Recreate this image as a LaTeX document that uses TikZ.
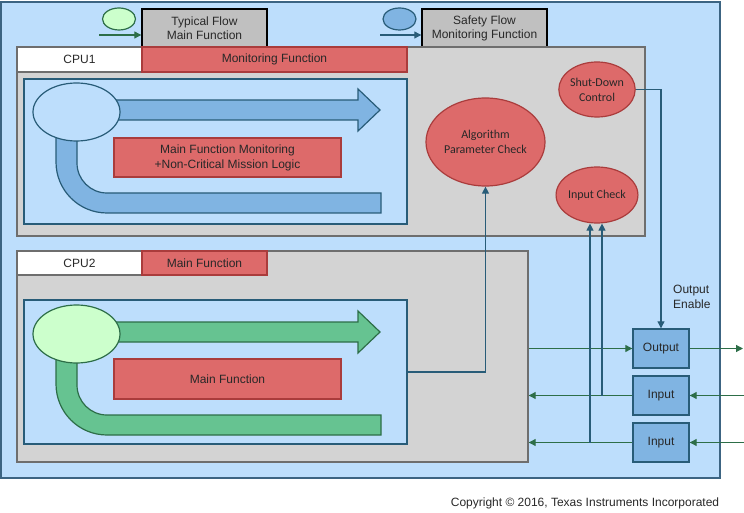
\documentclass[tikz,border=0pt]{standalone}
\usepackage{fontspec}
\setmainfont{Liberation Sans}
\newfontfamily\calfont{Carlito}
\usetikzlibrary{shapes.geometric,arrows.meta,calc}
\definecolor{bgblue}{RGB}{189,222,252}
\definecolor{bgline}{RGB}{60,100,130}
\definecolor{cpugray}{RGB}{211,211,211}
\definecolor{cpuline}{RGB}{110,110,110}
\definecolor{redfill}{RGB}{221,106,106}
\definecolor{redline}{RGB}{170,60,60}
\definecolor{bandblue}{RGB}{128,180,226}
\definecolor{tealline}{RGB}{40,92,120}
\definecolor{bandgreen}{RGB}{102,195,145}
\definecolor{greenline}{RGB}{45,110,72}
\definecolor{lightgreen}{RGB}{204,255,204}
\definecolor{leggray}{RGB}{192,192,192}
\definecolor{txtgray}{RGB}{40,40,40}
\newcommand\flowband[4]{%
  \begin{scope}[shift={(0,#1)}]
    \draw[fill=#2,draw=#3,line width=1.2pt] (100,100) -- (358,100) -- (358,89) -- (380,110) -- (358,131) -- (358,120) -- (100,120) -- cycle;
    \draw[fill=#2,draw=#3,line width=1.2pt] (56,125) -- (56,162) .. controls (56,190.2) and (78.8,213) .. (107,213) -- (381,213) -- (381,193) -- (107,193) .. controls (90.4,193) and (77,179.6) .. (77,163) -- (77,125) -- cycle;
    \node[ellipse, draw=#3, fill=#4, line width=1.2pt, inner sep=0pt, minimum width=87pt, minimum height=58pt] (#1ell) at (76.5,112) {};
  \end{scope}}
\begin{document}
\begin{tikzpicture}[x=1pt,y=-1pt,
  font=\fontsize{12}{14}\selectfont,
  plain/.style={inner sep=0pt, align=center, text=txtgray},
  container/.style={draw, inner sep=0pt, line width=1.4pt},
  legbox/.style={container, draw=black, fill=leggray, minimum width=125pt, minimum height=39pt, align=center, text=txtgray, font=\fontsize{12}{14}\selectfont},
  redbox/.style={draw=redline, fill=redfill, line width=1.2pt, inner sep=0pt, align=center, text=txtgray, font=\fontsize{12}{15}\selectfont},
  redell/.style={ellipse, draw=redline, fill=redfill, line width=1.2pt, inner sep=0pt, align=center, text=txtgray, font=\calfont\fontsize{12}{15}\selectfont},
  iobox/.style={draw=tealline, fill=bandblue, line width=1.4pt, inner sep=0pt, minimum width=56pt, minimum height=39pt, text=txtgray},
  tarr/.style={draw=tealline, line width=1.1pt, -{Triangle[length=7pt,width=7pt]}},
  garr/.style={draw=greenline, line width=1.1pt, -{Triangle[length=7pt,width=7pt]}}
]
\useasboundingbox (0,0) rectangle (744,513);
\node[container, draw=bgline, fill=bgblue, minimum width=719pt, minimum height=476pt] (sys) at (360.5,240) {};
% legend
\node[legbox] (leg1box) at (204.5,28.5) {Typical Flow\\Main Function};
\node[legbox] (leg2box) at (484.5,28.5) {Safety Flow\\Monitoring Function};
\node[ellipse, draw=greenline, fill=lightgreen, line width=1.2pt, inner sep=0pt, minimum width=33pt, minimum height=22pt] (leg1ell) at (119,19) {};
\node[ellipse, draw=tealline, fill=bandblue, line width=1.2pt, inner sep=0pt, minimum width=33pt, minimum height=22pt] (leg2ell) at (399.5,19) {};
\coordinate (leg1s) at (99,35);
\coordinate (leg2s) at (380,35);
\draw[garr] (leg1s) -- (leg1s -| leg1box.west);
\draw[tarr] (leg2s) -- (leg2s -| leg2box.west);
% CPU1
\node[container, draw=cpuline, fill=cpugray, minimum width=628pt, minimum height=189pt] (cpu1) at (331,141.5) {};
\node[container, draw=cpuline, fill=white, minimum width=125pt, minimum height=25pt, text=txtgray] (cpu1lbl) at (79.5,59.5) {CPU1};
\node[redbox, minimum width=265pt, minimum height=25pt] (monbar) at (274.5,59.5) {Monitoring Function};
\node[container, draw=tealline, fill=bgblue, minimum width=383pt, minimum height=145pt] (in1) at (215.5,151.5) {};
\flowband{0}{bandblue}{tealline}{bgblue}
\node[redbox, minimum width=227pt, minimum height=39pt] (red1) at (227.5,157.5) {Main Function Monitoring\\+Non-Critical Mission Logic};
\node[redell, minimum width=119pt, minimum height=88pt] (alg) at (485.5,142) {Algorithm\\Parameter Check};
\node[redell, minimum width=76pt, minimum height=55pt] (sdc) at (597,89.5) {Shut-Down\\Control};
\node[redell, minimum width=76pt, minimum height=56pt] (ichk) at (597,195) {Input Check};
% CPU2
\node[container, draw=cpuline, fill=cpugray, minimum width=511pt, minimum height=211pt] (cpu2) at (272.5,356.5) {};
\node[container, draw=cpuline, fill=white, minimum width=125pt, minimum height=24pt, text=txtgray] (cpu2lbl) at (79.5,263) {CPU2};
\node[redbox, minimum width=125pt, minimum height=24pt] (mainbar) at (204.5,263) {Main Function};
\node[container, draw=tealline, fill=bgblue, minimum width=383pt, minimum height=144pt] (in2) at (215.5,372) {};
\flowband{222}{bandgreen}{greenline}{lightgreen}
\node[redbox, minimum width=227pt, minimum height=40pt] (red2) at (227.5,379) {Main Function};
% IO
\node[iobox] (out) at (661,348.5) {Output};
\node[iobox] (inp1) at (661,395.5) {Input};
\node[iobox] (inp2) at (661,442.5) {Input};
\node[plain, anchor=west, align=left, font=\fontsize{12}{15}\selectfont] (oen) at (673,296.5) {Output\\Enable};
% connectors
\draw[tarr] (in2.east) -| (alg.south);
\draw[tarr] (sdc.east) -| (out.north);
\coordinate (ic1) at ([xshift=5pt]ichk.south);
\coordinate (ic2) at ([xshift=-7pt]ichk.south);
\draw[garr] (out.west -| cpu2.east) -- (out.west);
\coordinate (oend) at (743,348.5);
\draw[garr] (out.east) -- (oend);
\coordinate (i1s) at (744,395.5);
\coordinate (i2s) at (744,442.5);
\draw[garr] (i1s) -- (inp1.east);
\draw[garr] (i2s) -- (inp2.east);
\draw[garr] (inp1.west) -- (inp1.west -| cpu2.east);
\draw[garr] (inp2.west) -- (inp2.west -| cpu2.east);
\draw[tarr] (ic1 |- inp1.west) -- (ic1);
\draw[tarr] (ic2 |- inp2.west) -- (ic2);
% copyright
\node[plain, font=\fontsize{12}{14}\selectfont] (copy) at (585,503) {Copyright © 2016, Texas Instruments Incorporated};
\end{tikzpicture}
\end{document}
